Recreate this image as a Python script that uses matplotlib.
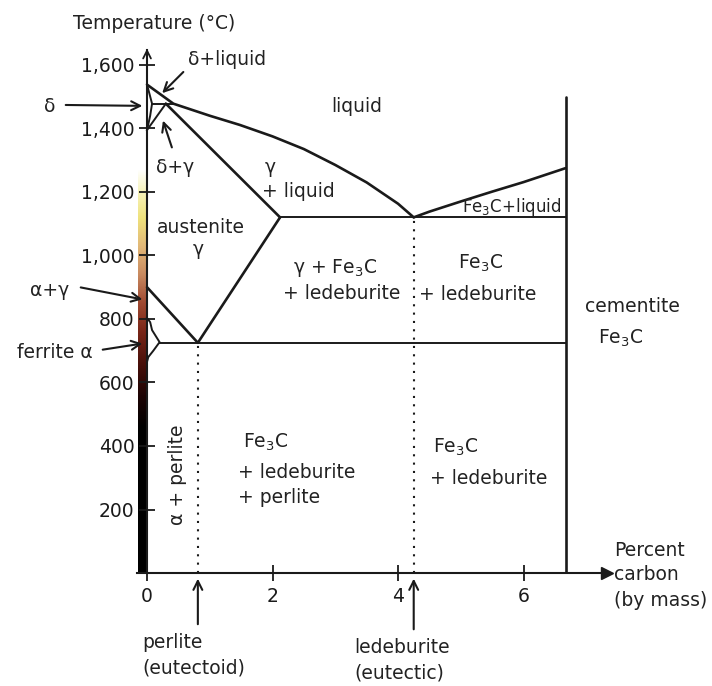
import matplotlib
matplotlib.use('Agg')
import matplotlib.pyplot as plt
import numpy as np
from matplotlib.colors import LinearSegmentedColormap

# ── Data: phase boundaries (wt% C, °C) ───────────────────────────────────────
liq_left_c  = [0.0, 0.42, 1.0, 1.48, 2.0, 2.5, 3.0, 3.5, 4.0, 4.25]
liq_left_t  = [1538, 1478, 1440, 1411, 1375, 1335, 1285, 1230, 1163, 1120]
liq_right_c = [4.25, 4.5, 5.0, 5.5, 6.0, 6.67]
liq_right_t = [1120, 1138, 1170, 1201, 1231, 1275]
solidus_c   = [0.3, 2.12]
solidus_t   = [1478, 1120]
perit_c     = [0.08, 0.42]
perit_t     = [1478, 1478]
delta_c     = [0.0, 0.08, 0.05, 0.0]
delta_t     = [1538, 1478, 1440, 1395]
dg_c        = [0.3, 0.0]
dg_t        = [1478, 1395]
a3_c        = [0.0, 0.81]
a3_t        = [900, 725]
acm_c       = [0.81, 2.12]
acm_t       = [725, 1120]
ferrite_c   = [0.0, 0.05, 0.08, 0.2, 0.1, 0.02, 0.0]
ferrite_t   = [803, 790, 765, 727, 700, 680, 665]
eutectoid_c = [0.2, 6.67]
eutectoid_t = [725, 725]
eutectic_c  = [2.12, 6.67]
eutectic_t  = [1120, 1120]
cem_c       = [6.67, 6.67]
cem_t       = [0, 1500]
eutectoid_x = 0.81
eutectic_x  = 4.25

xticks = [0, 2, 4, 6]
yticks = [200, 400, 600, 800, 1000, 1200, 1400, 1600]

# glow strip beside the temperature axis
strip_t      = [0.0, 0.36, 0.44, 0.52, 0.60, 0.67, 0.74, 0.81, 0.88, 0.95, 1.0]
strip_colors = ['#000000', '#000000', '#1e0404', '#4a100a', '#7a2618', '#a04a32',
                '#c98a60', '#e2b878', '#efe27c', '#f7f4c0', '#ffffff']
strip_top = 1270

INK = '#1a1a1a'
FS = 13.5

fig = plt.figure(figsize=(7.12, 6.86), dpi=100)
ax = fig.add_axes([0.1924, 0.1647, 0.6601, 0.7624])

# ── Axes styling ─────────────────────────────────────────────────────────────
for s in ('top', 'right'):
    ax.spines[s].set_visible(False)
ax.spines['left'].set_position(('data', 0))
for s in ('left', 'bottom'):
    ax.spines[s].set_color(INK)
    ax.spines[s].set_linewidth(1.5)
ax.set_xticks(xticks)
ax.set_xticklabels([str(v) for v in xticks])
ax.set_yticks(yticks)
ax.set_yticklabels([f'{v:,}' for v in yticks])
ax.tick_params(direction='inout', length=12, width=1.3, colors=INK, labelsize=FS)
ax.tick_params(axis='x', pad=4)
ax.tick_params(axis='y', pad=3)
ax.plot(1, 0, '>', color=INK, ms=9, transform=ax.get_yaxis_transform(), clip_on=False)
ax.annotate('', xy=(0, 1660), xytext=(0, 1590),
            arrowprops=dict(arrowstyle='->', color=INK, lw=1.3, mutation_scale=14),
            annotation_clip=False)

# glow strip
cmap = LinearSegmentedColormap.from_list('glow', list(zip(strip_t, strip_colors)))
grad = np.linspace(0, 1, 256).reshape(-1, 1)
ax.imshow(grad, cmap=cmap, origin='lower', aspect='auto',
          extent=[-0.15, -0.01, 0, strip_top], zorder=1, clip_on=False)
ax.set_xlim(-0.16, 7.33)
ax.set_ylim(0, 1647)

# ── Phase lines ──────────────────────────────────────────────────────────────
kw = dict(color=INK, lw=1.9, solid_capstyle='round', solid_joinstyle='round', zorder=3)
for cx, ty in [(liq_left_c, liq_left_t), (liq_right_c, liq_right_t),
               (solidus_c, solidus_t), (a3_c, a3_t), (acm_c, acm_t),
               (cem_c, cem_t)]:
    ax.plot(cx, ty, **kw)
thin = dict(color=INK, lw=1.4, zorder=3)
for cx, ty in [(perit_c, perit_t), (delta_c, delta_t), (dg_c, dg_t),
               (ferrite_c, ferrite_t), (eutectoid_c, eutectoid_t),
               (eutectic_c, eutectic_t)]:
    ax.plot(cx, ty, **thin)
ax.plot([eutectoid_x, eutectoid_x], [0, eutectoid_t[0]], color=INK, lw=1.5,
        linestyle=(0, (1, 3)), zorder=2)
ax.plot([eutectic_x, eutectic_x], [0, eutectic_t[0]], color=INK, lw=1.5,
        linestyle=(0, (1, 3)), zorder=2)

# ── Labels ───────────────────────────────────────────────────────────────────
def txt(x, y, s, ha='center', size=FS, **k):
    ax.text(x, y, s, ha=ha, va='center', fontsize=size, color='#222222', **k)

def arrow(x0, y0, x1, y1):
    ax.annotate('', xy=(x1, y1), xytext=(x0, y0),
                arrowprops=dict(arrowstyle='->', color=INK, lw=1.5, mutation_scale=16),
                annotation_clip=False)

txt(0.11, 1732, 'Temperature (°C)')
txt(0.65, 1616, 'δ+liquid', ha='left')
arrow(0.61, 1584, 0.21, 1505)
txt(-1.55, 1468, 'δ')
arrow(-1.34, 1474, -0.03, 1471)
txt(0.45, 1276, 'δ+γ')
arrow(0.41, 1332, 0.24, 1433)
txt(3.35, 1468, 'liquid')
txt(1.96, 1276, 'γ')
txt(2.41, 1200, '+ liquid')
txt(0.86, 1087, 'austenite')
txt(0.81, 1020, 'γ')
txt(3.0, 961, 'γ + Fe$_3$C')
txt(3.1, 879, '+ ledeburite')
txt(5.32, 976, 'Fe$_3$C')
txt(5.27, 876, '+ ledeburite')
txt(6.61, 1153, 'Fe$_3$C+liquid', ha='right', size=12)
txt(7.73, 838, 'cementite')
txt(7.55, 740, 'Fe$_3$C')
txt(-1.55, 891, 'α+γ')
arrow(-1.10, 901, -0.03, 860)
txt(-1.47, 696, 'ferrite α')
arrow(-0.75, 702, -0.03, 724)
txt(0.48, 309, 'α + perlite', rotation=90)
txt(1.53, 413, 'Fe$_3$C', ha='left')
txt(1.45, 318, '+ ledeburite', ha='left')
txt(1.45, 239, '+ perlite', ha='left')
txt(4.56, 397, 'Fe$_3$C', ha='left')
txt(4.51, 299, '+ ledeburite', ha='left')
txt(7.44, 72, 'Percent', ha='left')
txt(7.44, -6, 'carbon', ha='left')
txt(7.44, -85, '(by mass)', ha='left')
txt(-0.08, -220, 'perlite', ha='left')
txt(-0.08, -299, '(eutectoid)', ha='left')
arrow(eutectoid_x, -170, eutectoid_x, -9)
txt(3.31, -233, 'ledeburite', ha='left')
txt(3.31, -315, '(eutectic)', ha='left')
arrow(eutectic_x, -186, eutectic_x, -9)

fig.savefig('out.png', dpi=100)
